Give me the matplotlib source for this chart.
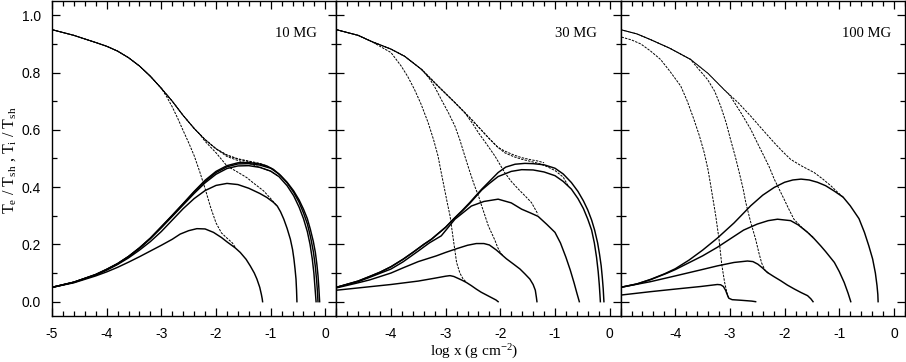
import matplotlib
matplotlib.use("Agg")
import matplotlib.pyplot as plt
from matplotlib.ticker import MultipleLocator

plt.rcParams["font.family"] = "Liberation Serif"
plt.rcParams["mathtext.fontset"] = "custom"
plt.rcParams["mathtext.rm"] = "Liberation Serif"
plt.rcParams["mathtext.it"] = "Liberation Serif:italic"
plt.rcParams["axes.unicode_minus"] = False

# ---- 10 MG ----
# upper envelope (ion temperature of the highest model), dashed
env10 = [(-5.0, 0.950), (-4.6, 0.930), (-4.2, 0.905), (-4.0, 0.892), (-3.8, 0.875),
         (-3.6, 0.852), (-3.4, 0.823), (-3.2, 0.787), (-3.0, 0.745), (-2.8, 0.700),
         (-2.6, 0.650), (-2.4, 0.605), (-2.2, 0.566), (-2.0, 0.534), (-1.8, 0.512),
         (-1.6, 0.499), (-1.4, 0.491), (-1.2, 0.483), (-1.07, 0.474)]
# ion temperature branches leaving the envelope
ti10_a = [(-3.0, 0.745), (-2.9, 0.715), (-2.8, 0.680), (-2.7, 0.640), (-2.6, 0.597),
          (-2.5, 0.555), (-2.4, 0.510), (-2.3, 0.455), (-2.2, 0.395), (-2.1, 0.330),
          (-2.0, 0.275), (-1.9, 0.240), (-1.8, 0.222), (-1.7, 0.205), (-1.65, 0.190)]
ti10_b = [(-2.3, 0.585), (-2.2, 0.560), (-2.0, 0.520), (-1.8, 0.474), (-1.6, 0.452),
          (-1.435, 0.433), (-1.3, 0.412), (-1.13, 0.387), (-1.0, 0.360), (-0.885, 0.334)]
ti10_c = [(-2.0, 0.534), (-1.8, 0.507), (-1.6, 0.493), (-1.4, 0.483), (-1.2, 0.470),
          (-1.0, 0.455), (-0.85, 0.437)]
ti10_d = [(-1.8, 0.512), (-1.6, 0.498), (-1.4, 0.489), (-1.2, 0.480), (-1.0, 0.466)]
# electron temperature, solid
te10_a = [(-5.0, 0.050), (-4.6, 0.066), (-4.2, 0.090), (-4.0, 0.104), (-3.8, 0.120),
          (-3.6, 0.138), (-3.4, 0.157), (-3.2, 0.177), (-3.0, 0.197), (-2.8, 0.218),
          (-2.656, 0.236), (-2.5, 0.248), (-2.35, 0.255), (-2.2, 0.254), (-2.046, 0.242),
          (-1.9, 0.224), (-1.8, 0.209), (-1.65, 0.188), (-1.557, 0.172), (-1.45, 0.148),
          (-1.374, 0.125), (-1.3, 0.100), (-1.252, 0.079), (-1.2, 0.050), (-1.17, 0.025),
          (-1.155, 0.010), (-1.148, 0.0)]
te10_b = [(-5.0, 0.050), (-4.6, 0.068), (-4.2, 0.093), (-4.0, 0.110), (-3.8, 0.130),
          (-3.6, 0.153), (-3.4, 0.180), (-3.2, 0.210), (-3.0, 0.245), (-2.8, 0.285),
          (-2.6, 0.325), (-2.4, 0.360), (-2.2, 0.388), (-2.0, 0.406), (-1.8, 0.413),
          (-1.6, 0.409), (-1.4, 0.396), (-1.2, 0.378), (-1.07, 0.364), (-0.95, 0.347),
          (-0.88, 0.334), (-0.82, 0.314), (-0.76, 0.288), (-0.7, 0.256), (-0.64, 0.218),
          (-0.6, 0.182), (-0.575, 0.149), (-0.555, 0.115), (-0.537, 0.079),
          (-0.527, 0.040), (-0.52, 0.0)]
te10_c = [(-5.0, 0.050), (-4.6, 0.068), (-4.2, 0.094), (-4.0, 0.112), (-3.8, 0.132),
          (-3.6, 0.157), (-3.4, 0.186), (-3.2, 0.220), (-3.0, 0.258), (-2.8, 0.298),
          (-2.6, 0.338), (-2.4, 0.378), (-2.2, 0.415), (-2.0, 0.445), (-1.8, 0.465),
          (-1.6, 0.474), (-1.4, 0.475), (-1.2, 0.469), (-1.0, 0.456), (-0.85, 0.437),
          (-0.7, 0.405), (-0.58, 0.370), (-0.48, 0.330), (-0.4, 0.290), (-0.33, 0.245),
          (-0.28, 0.200), (-0.24, 0.150), (-0.21, 0.100), (-0.19, 0.050), (-0.17, 0.0)]
te10_d = [(-5.0, 0.050), (-4.6, 0.068), (-4.2, 0.095), (-4.0, 0.113), (-3.8, 0.133),
          (-3.6, 0.158), (-3.4, 0.188), (-3.2, 0.222), (-3.0, 0.261), (-2.8, 0.301),
          (-2.6, 0.342), (-2.4, 0.383), (-2.2, 0.420), (-2.0, 0.451), (-1.8, 0.471),
          (-1.6, 0.481), (-1.4, 0.482), (-1.2, 0.477), (-1.0, 0.466), (-0.85, 0.446),
          (-0.7, 0.415), (-0.58, 0.382), (-0.48, 0.347), (-0.4, 0.310), (-0.33, 0.272),
          (-0.27, 0.225), (-0.22, 0.175), (-0.185, 0.125), (-0.16, 0.075),
          (-0.145, 0.035), (-0.135, 0.0)]
te10_e = [(-5.0, 0.050), (-4.6, 0.068), (-4.2, 0.095), (-4.0, 0.113), (-3.8, 0.133),
          (-3.6, 0.158), (-3.4, 0.188), (-3.2, 0.222), (-3.0, 0.262), (-2.8, 0.302),
          (-2.6, 0.343), (-2.4, 0.385), (-2.2, 0.424), (-2.0, 0.455), (-1.8, 0.475),
          (-1.6, 0.485), (-1.4, 0.486), (-1.2, 0.481), (-1.07, 0.474), (-0.95, 0.462),
          (-0.82, 0.441), (-0.7, 0.417), (-0.58, 0.387), (-0.48, 0.355), (-0.4, 0.323),
          (-0.33, 0.290), (-0.275, 0.253), (-0.22, 0.210), (-0.183, 0.172),
          (-0.155, 0.130), (-0.134, 0.090), (-0.118, 0.045), (-0.105, 0.0)]

# ---- 30 MG ----
env30 = [(-5.0, 0.950), (-4.6, 0.930), (-4.36, 0.909), (-4.0, 0.882), (-3.75, 0.857),
         (-3.44, 0.811), (-3.14, 0.753), (-2.83, 0.695), (-2.53, 0.637), (-2.22, 0.573),
         (-2.05, 0.540), (-1.92, 0.526), (-1.75, 0.512), (-1.61, 0.503), (-1.45, 0.496),
         (-1.31, 0.491), (-1.2, 0.485)]
ti30_a = [(-4.36, 0.909), (-4.0, 0.870), (-3.81, 0.822), (-3.69, 0.785), (-3.57, 0.741),
          (-3.45, 0.690), (-3.32, 0.625), (-3.22, 0.565), (-3.14, 0.509), (-3.08, 0.450),
          (-3.02, 0.393), (-2.97, 0.345), (-2.92, 0.300), (-2.86, 0.218), (-2.8, 0.137),
          (-2.74, 0.100), (-2.68, 0.079), (-2.62, 0.068)]
ti30_b = [(-3.44, 0.811), (-3.3, 0.780), (-3.2, 0.750), (-3.08, 0.706), (-2.95, 0.660),
          (-2.83, 0.613), (-2.74, 0.565), (-2.65, 0.509), (-2.56, 0.455), (-2.47, 0.404),
          (-2.4, 0.370), (-2.34, 0.334), (-2.28, 0.300), (-2.22, 0.265), (-2.16, 0.240),
          (-2.1, 0.215), (-2.05, 0.190), (-2.0, 0.172), (-1.95, 0.160)]
ti30_c = [(-2.65, 0.660), (-2.5, 0.620), (-2.4, 0.590), (-2.25, 0.550), (-2.1, 0.509),
          (-1.92, 0.451), (-1.8, 0.420), (-1.67, 0.393), (-1.55, 0.370), (-1.43, 0.346),
          (-1.31, 0.305)]
ti30_d = [(-2.05, 0.540), (-1.92, 0.520), (-1.75, 0.506), (-1.6, 0.497), (-1.45, 0.490),
          (-1.3, 0.483), (-1.15, 0.472), (-1.0, 0.458), (-0.85, 0.435), (-0.76, 0.405)]
te30_a = [(-5.0, 0.040), (-4.5, 0.050), (-4.0, 0.060), (-3.5, 0.072), (-3.2, 0.082),
          (-3.0, 0.089), (-2.92, 0.091), (-2.85, 0.088), (-2.78, 0.082), (-2.7, 0.075),
          (-2.62, 0.067), (-2.53, 0.056), (-2.44, 0.044), (-2.35, 0.033), (-2.25, 0.023),
          (-2.15, 0.013), (-2.08, 0.006), (-2.04, 0.0)]
te30_b = [(-5.0, 0.048), (-4.6, 0.066), (-4.39, 0.076), (-4.0, 0.100), (-3.78, 0.118),
          (-3.5, 0.140), (-3.17, 0.160), (-3.0, 0.172), (-2.8, 0.185), (-2.6, 0.197),
          (-2.44, 0.203), (-2.3, 0.203), (-2.2, 0.198), (-2.07, 0.180), (-1.95, 0.160),
          (-1.89, 0.150), (-1.75, 0.130), (-1.64, 0.114), (-1.55, 0.097), (-1.46, 0.079),
          (-1.4, 0.060), (-1.36, 0.040), (-1.34, 0.015), (-1.33, 0.0)]
te30_c = [(-5.0, 0.050), (-4.6, 0.070), (-4.39, 0.085), (-4.0, 0.114), (-3.78, 0.139),
          (-3.5, 0.177), (-3.3, 0.205), (-3.08, 0.230), (-2.83, 0.288), (-2.53, 0.334),
          (-2.3, 0.350), (-2.04, 0.358), (-1.8, 0.345), (-1.61, 0.323), (-1.45, 0.310),
          (-1.31, 0.298), (-1.15, 0.270), (-1.0, 0.242), (-0.9, 0.205), (-0.8, 0.155),
          (-0.72, 0.110), (-0.65, 0.065), (-0.6, 0.030), (-0.555, 0.0)]
te30_d = [(-5.0, 0.050), (-4.6, 0.072), (-4.39, 0.088), (-4.2, 0.103), (-4.0, 0.122),
          (-3.78, 0.148), (-3.6, 0.172), (-3.4, 0.200), (-3.26, 0.218), (-3.0, 0.260),
          (-2.86, 0.287), (-2.7, 0.316), (-2.56, 0.343), (-2.34, 0.390), (-2.2, 0.413),
          (-2.04, 0.437), (-1.8, 0.455), (-1.61, 0.461), (-1.4, 0.460), (-1.2, 0.453),
          (-1.0, 0.440), (-0.85, 0.420), (-0.7, 0.393), (-0.58, 0.360), (-0.48, 0.325),
          (-0.4, 0.288), (-0.33, 0.250), (-0.28, 0.205), (-0.24, 0.155), (-0.21, 0.105),
          (-0.19, 0.060), (-0.178, 0.025), (-0.17, 0.0)]
te30_e = [(-5.0, 0.050), (-4.6, 0.072), (-4.39, 0.088), (-4.2, 0.103), (-4.0, 0.122),
          (-3.78, 0.148), (-3.6, 0.172), (-3.4, 0.200), (-3.26, 0.218), (-3.0, 0.260),
          (-2.86, 0.288), (-2.7, 0.318), (-2.56, 0.346), (-2.34, 0.393), (-2.2, 0.420),
          (-2.04, 0.451), (-1.9, 0.470), (-1.73, 0.480), (-1.55, 0.483), (-1.4, 0.482),
          (-1.2, 0.478), (-1.0, 0.466), (-0.85, 0.446), (-0.7, 0.416), (-0.58, 0.385),
          (-0.48, 0.352), (-0.4, 0.320), (-0.33, 0.285), (-0.275, 0.250), (-0.22, 0.205),
          (-0.185, 0.165), (-0.155, 0.125), (-0.135, 0.085), (-0.118, 0.045),
          (-0.105, 0.0)]

# ---- 100 MG ----
env100 = [(-5.0, 0.950), (-4.7, 0.935), (-4.45, 0.915), (-4.1, 0.885), (-3.72, 0.846),
          (-3.4, 0.797), (-3.11, 0.741), (-2.85, 0.695), (-2.62, 0.648), (-2.4, 0.600),
          (-2.19, 0.555), (-2.03, 0.523), (-1.89, 0.497), (-1.7, 0.475), (-1.46, 0.451),
          (-1.3, 0.428), (-1.15, 0.404), (-1.03, 0.382), (-0.93, 0.365)]
ti100_a = [(-5.0, 0.925), (-4.8, 0.914), (-4.63, 0.900), (-4.45, 0.875), (-4.27, 0.846),
           (-4.1, 0.805), (-3.9, 0.753), (-3.78, 0.700), (-3.66, 0.637), (-3.56, 0.580),
           (-3.47, 0.520), (-3.4, 0.460), (-3.35, 0.404), (-3.26, 0.300), (-3.2, 0.218),
           (-3.15, 0.130), (-3.1, 0.070), (-3.06, 0.035), (-3.03, 0.015)]
ti100_b = [(-3.72, 0.846), (-3.6, 0.818), (-3.41, 0.776), (-3.28, 0.735), (-3.17, 0.683),
           (-3.07, 0.625), (-2.99, 0.567), (-2.9, 0.505), (-2.83, 0.451), (-2.76, 0.395),
           (-2.71, 0.346), (-2.62, 0.277), (-2.53, 0.218), (-2.47, 0.170), (-2.42, 0.135),
           (-2.36, 0.110), (-2.28, 0.097)]
ti100_c = [(-3.0, 0.720), (-2.8, 0.660), (-2.62, 0.602), (-2.5, 0.555), (-2.38, 0.509),
           (-2.28, 0.470), (-2.19, 0.428), (-2.1, 0.393), (-2.01, 0.358), (-1.92, 0.322),
           (-1.83, 0.288), (-1.7, 0.262), (-1.58, 0.242), (-1.46, 0.222)]
te100_a = [(-5.0, 0.023), (-4.45, 0.035), (-4.0, 0.044), (-3.535, 0.053), (-3.23, 0.060),
           (-3.17, 0.059), (-3.12, 0.053), (-3.08, 0.040), (-3.05, 0.025), (-3.02, 0.012),
           (-2.96, 0.007), (-2.8, 0.005), (-2.6, 0.002), (-2.53, 0.0)]
te100_b = [(-5.0, 0.050), (-4.45, 0.070), (-4.0, 0.090), (-3.535, 0.111), (-3.23, 0.125),
           (-2.925, 0.137), (-2.68, 0.142), (-2.58, 0.140), (-2.49, 0.131), (-2.4, 0.117),
           (-2.315, 0.102), (-2.2, 0.088), (-2.07, 0.073), (-1.95, 0.058), (-1.82, 0.044),
           (-1.7, 0.032), (-1.58, 0.021), (-1.52, 0.010), (-1.48, 0.0)]
te100_c = [(-5.0, 0.050), (-4.7, 0.062), (-4.45, 0.077), (-4.145, 0.100), (-4.0, 0.112),
           (-3.75, 0.136), (-3.5, 0.160), (-3.23, 0.190), (-2.99, 0.220), (-2.75, 0.250),
           (-2.5, 0.271), (-2.3, 0.283), (-2.13, 0.288), (-1.89, 0.283), (-1.75, 0.268),
           (-1.58, 0.242), (-1.46, 0.220), (-1.34, 0.195), (-1.25, 0.175), (-1.09, 0.137),
           (-1.0, 0.105), (-0.91, 0.067), (-0.84, 0.030), (-0.79, 0.0)]
te100_d = [(-5.0, 0.050), (-4.7, 0.062), (-4.45, 0.078), (-4.2, 0.097), (-4.0, 0.115),
           (-3.75, 0.145), (-3.5, 0.180), (-3.23, 0.222), (-2.925, 0.275), (-2.62, 0.335),
           (-2.4, 0.372), (-2.19, 0.399), (-2.0, 0.417), (-1.85, 0.425), (-1.7, 0.428),
           (-1.55, 0.425), (-1.4, 0.417), (-1.25, 0.405), (-1.09, 0.386), (-0.93, 0.365),
           (-0.8, 0.335), (-0.64, 0.290), (-0.54, 0.242), (-0.46, 0.195), (-0.39, 0.149),
           (-0.34, 0.100), (-0.31, 0.056), (-0.295, 0.025), (-0.29, 0.0)]

field_labels = ["10 MG", "30 MG", "100 MG"]
label_x = [0.93, 0.916, 0.95]


def with_env(env, branch):
    # a branch starts on the envelope; prepend the shared part
    x0 = branch[0][0]
    return [p for p in env if p[0] < x0] + branch


panels = [
    (env10, [ti10_a, ti10_b, ti10_c, ti10_d], [te10_a, te10_b, te10_c, te10_d, te10_e]),
    (env30, [ti30_a, ti30_b, ti30_c, ti30_d], [te30_a, te30_b, te30_c, te30_d, te30_e]),
    (env100, [ti100_b, ti100_c], [te100_a, te100_b, te100_c, te100_d]),
]

fig = plt.figure(figsize=(9.06, 3.62), dpi=100)
left, width = 52 / 906, 284.3 / 906
bottom, height = 46 / 362, 315 / 362

for i, (env, branches, tes) in enumerate(panels):
    ax = fig.add_axes([left + i * width, bottom, width, height])

    ti_curves = [env] + [with_env(env, b) for b in branches]
    if i == 2:
        ti_curves.append(ti100_a)
    for k, cur in enumerate(ti_curves):
        xs = [p[0] for p in cur]
        ys = [p[1] for p in cur]
        ax.plot(xs, ys, color="black", lw=0.7,
                linestyle=(k * 0.9, (2.5, 1.2)), dash_capstyle="butt")
    for cur in tes:
        xs = [p[0] for p in cur]
        ys = [p[1] for p in cur]
        ax.plot(xs, ys, color="black", lw=1.05)

    ax.set_xlim(-5, 0.2)
    ax.set_ylim(-0.05, 1.05)
    ax.xaxis.set_major_locator(MultipleLocator(1))
    ax.xaxis.set_minor_locator(MultipleLocator(0.2))
    ax.yaxis.set_major_locator(MultipleLocator(0.2))
    ax.yaxis.set_minor_locator(MultipleLocator(0.1))
    ax.tick_params(which="both", direction="in", top=True, right=True,
                   labelfontfamily="Liberation Sans", labelsize=10, width=0.9)
    ax.tick_params(which="major", length=6, pad=8)
    ax.tick_params(which="minor", length=3.5)
    for s in ax.spines.values():
        s.set_linewidth(1.0)

    ax.set_xticks([-5, -4, -3, -2, -1, 0])
    if i == 0:
        ax.set_xticklabels(["-5", "-4", "-3", "-2", "-1", "0"])
        ax.set_yticks([0.0, 0.2, 0.4, 0.6, 0.8, 1.0])
        ax.set_yticklabels(["0.0", "0.2", "0.4", "0.6", "0.8", "1.0"])
    else:
        ax.set_xticklabels(["", "-4", "-3", "-2", "-1", "0"])
        ax.set_yticklabels([])

    ax.text(label_x[i], 0.898, field_labels[i], transform=ax.transAxes,
            ha="right", va="center", fontsize=10.5)

fig.text(474 / 906, 1 - 352 / 362, r"log x (g cm$^{-2}$)",
         ha="center", va="center", fontsize=11)
fig.text(10 / 906, 1 - 160 / 362,
         r"T$_\mathrm{e}$ / T$_\mathrm{sh}$ , T$_\mathrm{i}$ / T$_\mathrm{sh}$",
         ha="center", va="center", rotation=90, fontsize=11.5)

fig.savefig("out.png", dpi=100)
